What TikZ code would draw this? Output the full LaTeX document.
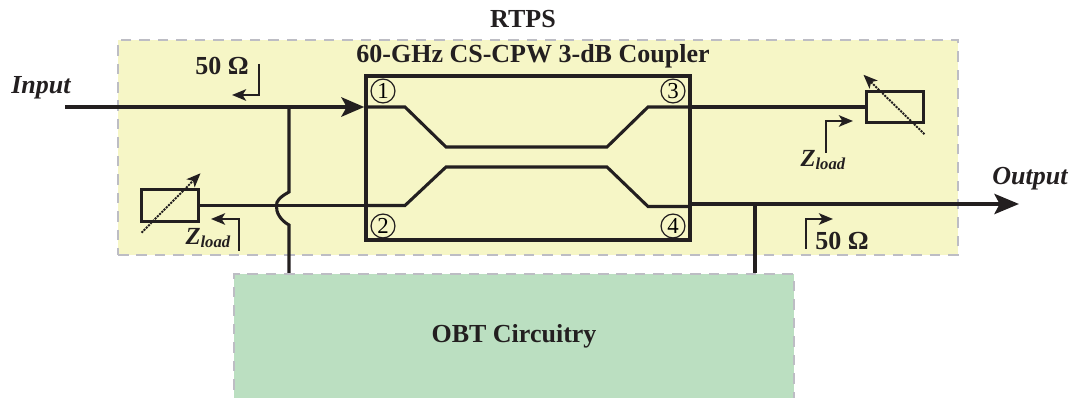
\documentclass[tikz,border=0pt]{standalone}
\usepackage{fontspec}
\setmainfont{Liberation Serif}
\usepackage{amsmath}
\usepackage{xcolor}
\usetikzlibrary{arrows.meta, calc, positioning}
\definecolor{rtpsfill}{HTML}{F6F6C6}
\definecolor{obtfill}{HTML}{BBDFC1}
\definecolor{dashgray}{HTML}{BDBDC4}
\definecolor{inkblack}{HTML}{231F20}
\tikzset{
    dashbox/.style={draw=dashgray, line width=1.2pt, dash pattern=on 6pt off 4.5pt, inner sep=0pt},
    loadbox/.style={draw=inkblack, line width=1.6pt, minimum width=32pt, minimum height=18pt, inner sep=0pt},
    portnum/.style={draw=inkblack, circle, line width=0.7pt, minimum size=13.6pt, inner sep=0pt, font=\fontsize{13}{13}\selectfont},
    wire/.style={draw=inkblack, line width=1.75pt},
    mainwire/.style={draw=inkblack, line width=2.1pt},
    lbl/.style={inner sep=0pt, text=inkblack, font=\fontsize{14.8}{14.8}\selectfont\bfseries},
    ilbl/.style={inner sep=0pt, text=inkblack, font=\fontsize{14.8}{14.8}\selectfont\bfseries\itshape},
    zlbl/.style={inner sep=0pt, text=inkblack, font=\fontsize{14}{14}\selectfont\bfseries},
    refarrow/.style={draw=inkblack, line width=1.35pt, -{Stealth[length=8pt,width=6.5pt,inset=2pt]}},
    tunearrow/.style={draw=inkblack, line width=1.1pt, dash pattern=on 1.2pt off 0.6pt, -{Stealth[length=8pt,width=6.5pt,inset=2pt]}}
}
\newcommand{\zload}{\textit{Z}\raisebox{-0.3ex}{\fontsize{9.5}{9.5}\selectfont\textit{load}}}
\begin{document}
\begin{tikzpicture}[x=0.02cm, y=-0.02cm, >=Stealth]
    \useasboundingbox (0,0) rectangle (1073,398);
    \clip (0,0) rectangle (1073,398);

    % Backgrounds
    \node[dashbox, fill=rtpsfill, minimum width=840*0.02cm, minimum height=215*0.02cm] (rtps) at (538,147.5) {};
    \node[dashbox, fill=obtfill, minimum width=560*0.02cm, minimum height=140*0.02cm] (obt) at (514,344) {};

    % Coupler and loads
    \node[draw=inkblack, line width=2pt, minimum width=324*0.02cm, minimum height=164*0.02cm, inner sep=0pt] (coupler) at (528,158) {};
    \node[loadbox] (loadl) at (170,205.5) {};
    \node[loadbox] (loadr) at (895,107) {};

    % Port numbers
    \node[portnum] (p1) at (383,91) {1};
    \node[portnum] (p2) at (383,226) {2};
    \node[portnum] (p3) at (673,91) {3};
    \node[portnum] (p4) at (673,226) {4};

    % Free ends and branch points
    \coordinate (inp) at (65,107);
    \coordinate (in1) at (coupler.west |- inp);
    \coordinate (in2) at (coupler.west |- loadl.east);
    \coordinate (out3) at (coupler.east |- loadr.west);
    \coordinate (out4) at (690,204);
    \coordinate (outp) at (1019,204);
    \coordinate (tapi) at (289,107);
    \coordinate (tapo) at (755,204);

    % Main lines
    \draw[mainwire, -{Stealth[length=13pt,width=11pt,inset=3pt]}] (inp) -- (in1);
    \draw[mainwire, -{Stealth[length=14pt,width=11.5pt,inset=3pt]}] (out4) -- (outp);
    \draw[wire] (loadl.east) -- (in2);
    \draw[wire] (out3) -- (loadr.west);

    % Coupled lines
    \draw[wire] (in1) -- (405,107) -- (446,147) -- (607,147) -- (648,107) -- (out3);
    \draw[wire] (in2) -- (405,205.5) -- (446,167) -- (607,167) -- (648,206.5) -- (690,206.5);

    % Tap lines to OBT
    \draw[wire] (tapi) -- (289,192) .. controls (280,197) and (276,201) .. (276.5,206)
        .. controls (276,212) and (280,220) .. (289,225) -- (obt.north -| tapi);
    \draw[wire] (tapo) -- (obt.north -| tapo);

    % Tuning arrows
    \draw[tunearrow] ($(loadl.south west)+(1,10)$) -- ($(loadl.north east)+(1,-15)$);
    \draw[tunearrow] ($(loadr.south east)+(0,10)$) -- ($(loadr.north west)+(-2,-15)$);

    % Impedance arrows
    \draw[refarrow] (259,64) -- (259,95) -- (232,95);
    \draw[refarrow] (239,251) -- (239,219) -- (211,219);
    \draw[refarrow] (826,153) -- (826,121) -- (853,121);
    \draw[refarrow] (806,249) -- (806,219) -- (833,219);

    % Labels
    \node[lbl] (title) at (523,19) {RTPS};
    \node[lbl] (cname) at (533,56) {60-GHz CS-CPW 3-dB Coupler};
    \node[lbl] (obtname) at (514,336) {OBT Circuitry};
    \node[ilbl] (inname) at (41,88) {Input};
    \node[ilbl] (outname) at (1030,179) {Output};
    \node[lbl] (zin) at (222,66) {50 Ω};
    \node[lbl] (zout) at (842,241) {50 Ω};
    \node[zlbl] (zl) at (208,238) {\zload};
    \node[zlbl] (zr) at (823,160) {\zload};
\end{tikzpicture}
\end{document}
